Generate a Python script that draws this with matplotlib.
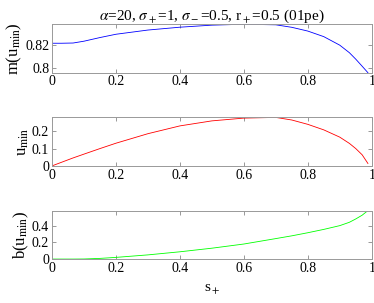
import matplotlib
matplotlib.use('Agg')
import matplotlib.pyplot as plt

plt.rcParams['font.family'] = ['Liberation Serif', 'DejaVu Serif']
plt.rcParams['mathtext.fontset'] = 'stix'

# values
s_plus = [0, 0.03, 0.066, 0.1, 0.15, 0.2, 0.3, 0.4, 0.5, 0.6, 0.7, 0.75,
          0.8, 0.85, 0.9, 0.93, 0.95, 0.97, 0.988]
m_umin = [0.8215, 0.8215, 0.8217, 0.8233, 0.8265, 0.8294, 0.8331, 0.8356,
          0.8374, 0.8382, 0.8377, 0.8355, 0.8322, 0.8273, 0.8198, 0.8132,
          0.8075, 0.8013, 0.7956]
u_min = [0, 0.021, 0.046, 0.068, 0.100, 0.131, 0.186, 0.231, 0.260, 0.276,
         0.280, 0.265, 0.240, 0.208, 0.166, 0.130, 0.100, 0.064, 0.014]
b_umin = [0, 0, 0, 0.001, 0.008, 0.020, 0.050, 0.087, 0.130, 0.180, 0.245,
          0.278, 0.315, 0.355, 0.400, 0.440, 0.480, 0.525, 0.580]

x_ticks = [0, 0.2, 0.4, 0.6, 0.8, 1]
m_ticks = [0.8, 0.82]
u_ticks = [0, 0.1, 0.2]
b_ticks = [0, 0.2, 0.4]

fig = plt.figure(figsize=(3.74, 3.03), dpi=100)

left, width, height = 0.139, 0.855, 0.16
bottoms = [0.760, 0.4525, 0.145]

rows = [
    (m_umin, 'b', m_ticks, r'm(u$_{\rm min}$)'),
    (u_min, 'r', u_ticks, r'u$_{\rm min}$'),
    (b_umin, '#00ff00', b_ticks, r'b(u$_{\rm min}$)'),
]

axes = []
for (vals, col, yt, lab), bot in zip(rows, bottoms):
    ax = fig.add_axes([left, bot, width, height])
    ax.plot(s_plus, vals, color=col, lw=0.6)
    ax.set_xlim(0, 1)
    ax.set_ylim(min(vals), max(vals))
    ax.set_xticks(x_ticks)
    ax.set_xticklabels(['0', '0.2', '0.4', '0.6', '0.8', '1'])
    ax.set_yticks(yt)
    ax.set_yticklabels([('%g' % v) for v in yt])
    ax.tick_params(direction='in', length=3, width=0.6, color='#888888',
                   labelsize=10, top=True, right=True, pad=2)
    for sp in ax.spines.values():
        sp.set_color('#999999')
        sp.set_linewidth(0.7)
    ax.set_ylabel(lab, fontsize=12, labelpad=1)
    axes.append(ax)

axes[0].set_title(r'$\alpha$=20, $\sigma_+$=1, $\sigma_-$=0.5, r$_+$=0.5 (01pe)',
                  fontsize=11, pad=3)
axes[2].set_xlabel(r's$_+$', fontsize=11, labelpad=6)

fig.savefig('out.png', dpi=100)
